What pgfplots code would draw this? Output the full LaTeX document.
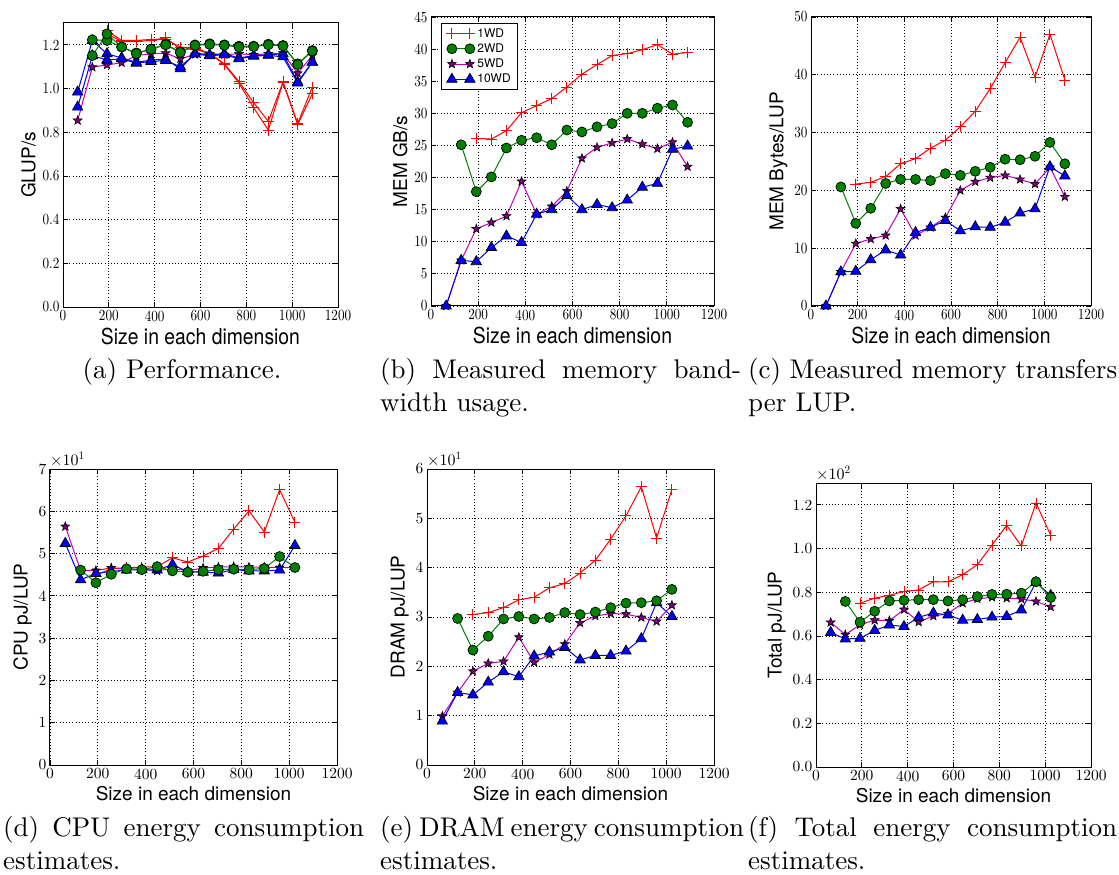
\documentclass[border=0pt]{standalone}
\usepackage{fontspec}
\setsansfont{TeX Gyre Heros}
\newfontfamily\cmten{lmroman10-regular}[Extension=.otf]
\newfontfamily\cmtennarrow{lmroman10-regular}[Extension=.otf, FakeStretch=0.85]
\newfontfamily\sfnarrow{TeX Gyre Heros}[FakeStretch=0.88]
\usepackage{pgfplots}
\usepackage{pgfplotstable}
\pgfplotsset{compat=1.18}

\definecolor{mplred}{HTML}{FF0000}
\definecolor{mplgreen}{HTML}{008000}
\definecolor{mplmag}{HTML}{BF00BF}
\definecolor{mplpurple}{HTML}{800080}
\definecolor{mplblue}{HTML}{0000FF}

% filled five-pointed star
\pgfdeclareplotmark{fstar}{%
  \pgfpathmoveto{\pgfpointpolar{90}{\pgfplotmarksize}}%
  \pgfpathlineto{\pgfpointpolar{126}{0.42\pgfplotmarksize}}%
  \pgfpathlineto{\pgfpointpolar{162}{\pgfplotmarksize}}%
  \pgfpathlineto{\pgfpointpolar{198}{0.42\pgfplotmarksize}}%
  \pgfpathlineto{\pgfpointpolar{234}{\pgfplotmarksize}}%
  \pgfpathlineto{\pgfpointpolar{270}{0.42\pgfplotmarksize}}%
  \pgfpathlineto{\pgfpointpolar{306}{\pgfplotmarksize}}%
  \pgfpathlineto{\pgfpointpolar{342}{0.42\pgfplotmarksize}}%
  \pgfpathlineto{\pgfpointpolar{18}{\pgfplotmarksize}}%
  \pgfpathlineto{\pgfpointpolar{54}{0.42\pgfplotmarksize}}%
  \pgfpathclose
  \pgfusepathqfillstroke
}

% (a) performance, GLUP/s -- two runs for some series
\pgfplotstableread{
x    r      rb     g      gb     p      b      bb
64   nan    nan    nan    nan    0.854  0.984  0.915
128  nan    nan    1.223  1.151  1.098  1.22   1.15
192  1.265  1.25   1.22   1.25   1.108  1.159  1.131
256  1.22   1.215  1.19   1.19   1.118  1.14   1.136
320  1.22   1.215  1.163  1.16   1.151  1.12   1.116
384  1.225  1.22   1.18   1.18   1.159  1.13   1.124
448  1.225  1.232  1.203  1.2    1.162  1.135  1.128
512  1.19   1.18   1.167  1.165  1.136  1.09   1.10
576  1.185  1.18   1.2    1.198  1.156  1.162  1.158
640  1.162  1.16   1.205  1.202  1.159  1.154  1.15
704  1.113  1.11   1.2    1.198  1.155  1.159  1.155
768  1.032  1.025  1.194  1.19   1.159  1.14   1.136
832  0.935  0.912  1.194  1.192  1.155  1.151  1.148
896  0.85   0.81   1.203  1.2    1.159  1.154  1.152
960  1.03   1.028  1.197  1.195  1.162  1.159  1.145
1024 0.84   0.835  1.113  1.11   1.07   1.03   1.025
1088 1.007  0.976  1.174  1.172  1.151  1.121  1.12
}\tperf

% (b) memory bandwidth GB/s
\pgfplotstableread{
x    r     g     p     b
64   nan   nan   0     0
128  nan   25.1  7.1   7.1
192  26.1  17.8  12.0  6.9
256  26.0  20.1  13.0  9.1
320  27.3  24.6  14.0  10.9
384  30.1  25.8  19.4  9.9
448  31.2  26.2  14.3  14.3
512  32.3  25.1  15.5  15.0
576  34.1  27.4  17.9  17.2
640  36.1  27.1  23.0  15.0
704  37.6  27.9  24.7  15.8
768  39.0  28.4  25.4  15.3
832  39.3  30.0  26.0  16.5
896  39.9  30.0  25.2  18.5
960  40.7  30.8  24.5  19.1
1024 39.2  31.3  25.5  24.4
1088 39.5  28.6  21.7  24.9
}\tbw

% (c) bytes per LUP
\pgfplotstableread{
x    r     g     p     b
64   nan   nan   0     0
128  nan   20.6  5.9   5.9
192  21.1  14.3  10.8  6.0
256  21.4  16.9  11.6  8.0
320  22.4  21.2  12.2  9.7
384  24.6  21.9  16.8  8.8
448  25.5  21.9  12.2  12.7
512  27.3  21.7  13.6  13.6
576  28.7  22.9  15.3  14.8
640  31.0  22.6  20.0  13.0
704  33.7  23.3  21.5  13.7
768  37.6  24.0  22.2  13.6
832  42.1  25.4  22.6  14.5
896  46.5  25.3  21.9  16.1
960  39.6  25.9  21.1  16.8
1024 47.0  28.3  24.0  24.1
1088 39.1  24.6  18.9  22.5
}\tbytes

% (d) CPU pJ/LUP
\pgfplotstableread{
x    r     g     p     b
64   nan   nan   56.4  52.4
128  nan   46.1  46.0  43.8
192  44.8  43.1  46.0  45.3
256  46.5  45.1  46.6  45.8
320  46.6  46.4  46.3  46.1
384  46.8  46.2  46.3  46.2
448  46.9  46.9  45.9  46.1
512  49.0  45.9  46.5  47.4
576  48.0  45.6  45.9  45.7
640  49.4  45.8  46.6  45.6
704  51.2  46.2  46.8  45.4
768  55.8  46.3  46.9  46.2
832  60.1  46.2  46.8  45.9
896  55.1  46.5  46.8  45.9
960  65.1  49.3  46.7  46.1
1024 57.4  46.7  46.7  51.9
}\tcpu

% (e) DRAM pJ/LUP
\pgfplotstableread{
x    r     g     p     b
64   nan   nan   9.9   8.9
128  nan   29.7  14.7  14.7
192  30.5  23.3  19.0  14.2
256  30.9  26.1  20.6  16.8
320  31.9  29.6  21.0  18.9
384  33.5  30.1  25.9  17.9
448  34.0  29.6  20.8  22.1
512  35.9  29.9  22.4  22.9
576  36.8  30.9  24.5  23.8
640  38.9  30.5  28.8  21.3
704  41.5  31.0  30.2  22.2
768  45.8  31.9  30.7  22.2
832  50.5  32.8  30.6  23.1
896  56.4  32.9  29.9  25.6
960  46.0  33.3  29.1  32.9
1024 55.9  35.6  32.4  30.1
}\tdram

% (f) total pJ/LUP
\pgfplotstableread{
x    r      g     p     b
64   nan    nan   66.2  61.6
128  nan    75.8  60.6  58.6
192  75.0   66.3  65.1  58.9
256  77.3   71.3  67.2  62.5
320  78.6   76.0  67.0  65.0
384  80.4   76.3  72.1  64.3
448  81.0   76.6  66.4  68.5
512  84.8   76.6  69.1  70.5
576  84.8   76.0  70.2  69.6
640  88.0   76.6  75.0  67.2
704  92.6   78.0  77.0  67.5
768  101.6  79.0  77.7  68.6
832  110.6  79.1  77.3  68.9
896  101.2  79.6  76.9  71.9
960  120.8  84.8  75.8  84.5
1024 106.1  77.6  73.3  78.5
}\ttotal

\pgfplotsset{
  panel/.style={
    scale only axis, anchor=north west,
    xmin=0, xmax=1200, ymin=0,
    xtick={0,200,...,1200},
    scaled x ticks=false,
    grid=major,
    grid style={black, line width=0.8pt, dash pattern=on 0.8pt off 2.4pt},
    axis line style={line width=1pt},
    tick style={black, line width=0.8pt},
    major tick length=5pt,
    tick align=inside,
    /pgf/number format/assume math mode=true,
    /pgf/number format/set thousands separator={},
    tick label style={font=\cmten\fontsize{15.5}{18}\selectfont},
    label style={font=\sffamily\fontsize{19}{22}\selectfont},
    xlabel={Size in each dimension},
    every y tick scale label/.style={at={(rel axis cs:0,1)}, anchor=south west,
      inner sep=0pt, yshift=3pt, font=\cmten\fontsize{16}{18}\selectfont},
    legend image code/.code={\draw[mark repeat=1,mark phase=1,##1]
      plot coordinates {(0pt,0pt) (18pt,0pt)};},
  },
  toprow/.style={
    tick label style={font=\cmtennarrow\fontsize{15.5}{18}\selectfont},
    xlabel style={font=\sfnarrow\fontsize{22}{25}\selectfont},
  },
  onedec/.style={yticklabel style={/pgf/number format/fixed,
    /pgf/number format/fixed zerofill, /pgf/number format/precision=1}},
  wdA/.style={color=mplred, line width=1pt, mark=+, mark size=5.5pt,
    mark options={line width=1pt}},
  wdB/.style={color=mplgreen, line width=1pt, mark=*, mark size=5pt,
    mark options={fill=mplgreen, draw=black, line width=0.7pt}},
  wdC/.style={color=mplmag, line width=1pt, mark=fstar, mark size=4.6pt,
    mark options={fill=mplpurple, draw=black, line width=0.6pt}},
  wdD/.style={color=mplblue, line width=1pt, mark=triangle*, mark size=6pt,
    mark options={fill=mplblue, draw=black, line width=0.7pt}},
}

\begin{document}
\begin{tikzpicture}
\useasboundingbox (0,0) rectangle (1119pt,-875pt);

% (a)
\begin{axis}[panel, toprow, onedec, at={(63pt,-23pt)}, width=275pt, height=284pt,
  ymax=1.3, ytick={0,0.2,...,1.2}, ylabel={GLUP/s}]
\addplot[wdA] table[x=x,y=r] {\tperf};
\addplot[wdA] table[x=x,y=rb] {\tperf};
\addplot[wdC] table[x=x,y=p] {\tperf};
\addplot[wdD] table[x=x,y=b] {\tperf};
\addplot[wdD] table[x=x,y=bb] {\tperf};
\addplot[wdB] table[x=x,y=g] {\tperf};
\addplot[wdB] table[x=x,y=gb] {\tperf};
\end{axis}

% (b)
\begin{axis}[panel, toprow, at={(431pt,-17pt)}, width=283pt, height=289pt,
  ymax=45, ytick={0,5,...,45}, ylabel={MEM GB/s},
  legend cell align=left,
  legend style={at={(0,1)}, anchor=north west, xshift=10pt, yshift=-6pt,
    font=\sffamily\fontsize{12}{14}\selectfont, draw=black, line width=0.8pt,
    row sep=1pt, inner xsep=5pt, inner ysep=3pt}]
\addlegendimage{wdA}\addlegendentry{1WD}
\addlegendimage{wdB}\addlegendentry{2WD}
\addlegendimage{wdC}\addlegendentry{5WD}
\addlegendimage{wdD}\addlegendentry{10WD}
\addplot[wdA, forget plot] table[x=x,y=r] {\tbw};
\addplot[wdC, forget plot] table[x=x,y=p] {\tbw};
\addplot[wdD, forget plot] table[x=x,y=b] {\tbw};
\addplot[wdB, forget plot] table[x=x,y=g] {\tbw};
\end{axis}

% (c)
\begin{axis}[panel, toprow, at={(811pt,-17pt)}, width=280pt, height=289pt,
  ymax=50, ytick={0,10,...,50}, ylabel={MEM Bytes/LUP}]
\addplot[wdA] table[x=x,y=r] {\tbytes};
\addplot[wdC] table[x=x,y=p] {\tbytes};
\addplot[wdD] table[x=x,y=b] {\tbytes};
\addplot[wdB] table[x=x,y=g] {\tbytes};
\end{axis}

% (d)
\begin{axis}[panel, at={(50pt,-469pt)}, width=287pt, height=296pt,
  ymax=70, ytick={0,10,...,70}, ylabel={CPU pJ/LUP},
  scaled y ticks=base 10:-1,
  ytick scale label code/.code={×10\textsuperscript{1}}]
\addplot[wdA] table[x=x,y=r] {\tcpu};
\addplot[wdC] table[x=x,y=p] {\tcpu};
\addplot[wdD] table[x=x,y=b] {\tcpu};
\addplot[wdB] table[x=x,y=g] {\tcpu};
\end{axis}

% (e)
\begin{axis}[panel, at={(427pt,-469pt)}, width=287pt, height=296pt,
  ymax=60, ytick={0,10,...,60}, ylabel={DRAM pJ/LUP},
  scaled y ticks=base 10:-1,
  ytick scale label code/.code={×10\textsuperscript{1}}]
\addplot[wdA] table[x=x,y=r] {\tdram};
\addplot[wdC] table[x=x,y=p] {\tdram};
\addplot[wdD] table[x=x,y=b] {\tdram};
\addplot[wdB] table[x=x,y=g] {\tdram};
\end{axis}

% (f)
\begin{axis}[panel, onedec, at={(816pt,-483pt)}, width=275pt, height=284pt,
  ymax=130, ytick={0,20,...,120}, ylabel={Total pJ/LUP},
  scaled y ticks=base 10:-2,
  ytick scale label code/.code={×10\textsuperscript{2}}]
\addplot[wdA] table[x=x,y=r] {\ttotal};
\addplot[wdC] table[x=x,y=p] {\ttotal};
\addplot[wdD] table[x=x,y=b] {\ttotal};
\addplot[wdB] table[x=x,y=g] {\ttotal};
\end{axis}

% sub-captions
\begin{scope}[every node/.style={inner sep=0pt, font=\cmten\fontsize{27}{33}\selectfont}]
\node[anchor=base] at (182pt,-378pt) {(a) Performance.};
\node[anchor=base west] at (380pt,-378pt) {\makebox[361pt][s]{(b) Measured memory band-}};
\node[anchor=base west] at (380pt,-411pt) {width usage.};
\node[anchor=base west] at (748pt,-378pt) {\makebox[369pt][s]{(c) Measured memory transfers}};
\node[anchor=base west] at (748pt,-411pt) {per LUP.};
\node[anchor=base west] at (3pt,-836pt) {\makebox[361pt][s]{(d) CPU energy consumption}};
\node[anchor=base west] at (3pt,-869pt) {estimates.};
\node[anchor=base west] at (380pt,-836pt) {\makebox[361pt][s]{(e) DRAM energy consumption}};
\node[anchor=base west] at (380pt,-869pt) {estimates.};
\node[anchor=base west] at (748pt,-836pt) {\makebox[369pt][s]{(f) Total energy consumption}};
\node[anchor=base west] at (748pt,-869pt) {estimates.};
\end{scope}
\end{tikzpicture}
\end{document}
